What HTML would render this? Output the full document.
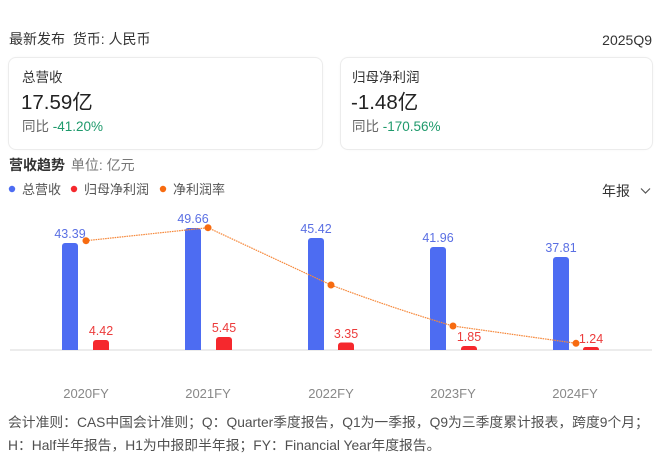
<!DOCTYPE html>
<html><head><meta charset="utf-8">
<style>
html,body{margin:0;padding:0;background:#fff;}
body{width:660px;height:468px;position:relative;overflow:hidden;font-family:"Liberation Sans","Noto Sans CJK SC",sans-serif;color:#333;}
.a{position:absolute;white-space:nowrap;line-height:1;}
.card{position:absolute;top:57px;height:91px;border:1px solid #ececec;border-radius:8px;background:#fff;box-shadow:0 0 2px rgba(0,0,0,0.03);}
</style></head><body>
<div class="a" style="left:9px;top:32px;font-size:14px;color:#333;">最新发布&nbsp;&nbsp;货币: 人民币</div>
<div class="a" style="right:8px;top:33px;font-size:14px;color:#333;">2025Q9</div>

<div class="card" style="left:8px;width:313px;"></div>
<div class="card" style="left:340px;width:311px;"></div>

<div class="a" style="left:22px;top:71px;font-size:13.5px;color:#333;">总营收</div>
<div class="a" style="left:21px;top:93px;font-size:20.5px;color:#222;">17.59亿</div>
<div class="a" style="left:22px;top:120px;font-size:13.5px;color:#666;">同比 <span style="color:#1f9a6c;">-41.20%</span></div>

<div class="a" style="left:352px;top:71px;font-size:13.5px;color:#333;">归母净利润</div>
<div class="a" style="left:351px;top:93px;font-size:20.5px;color:#222;">-1.48亿</div>
<div class="a" style="left:352px;top:120px;font-size:13.5px;color:#666;">同比 <span style="color:#1f9a6c;">-170.56%</span></div>

<div class="a" style="left:9px;top:158px;font-size:14px;font-weight:bold;color:#333;">营收趋势 <span style="font-weight:normal;color:#777;margin-left:2px;">单位: 亿元</span></div>

<svg class="a" style="left:0;top:0;" width="660" height="468" xmlns="http://www.w3.org/2000/svg">
  <circle cx="12" cy="189" r="3.2" fill="#4d6cf2"/>
  <circle cx="74" cy="189" r="3.2" fill="#f5282d"/>
  <circle cx="163" cy="189" r="3.2" fill="#f76b10"/>
  <text x="22" y="194" font-size="13" fill="#555" font-family="Liberation Sans, Noto Sans CJK SC, sans-serif">总营收</text>
  <text x="84" y="194" font-size="13" fill="#555" font-family="Liberation Sans, Noto Sans CJK SC, sans-serif">归母净利润</text>
  <text x="173" y="194" font-size="13" fill="#555" font-family="Liberation Sans, Noto Sans CJK SC, sans-serif">净利润率</text>
  <text x="602" y="196" font-size="14" fill="#333" font-family="Liberation Sans, Noto Sans CJK SC, sans-serif">年报</text>
  <polyline points="641,188.5 645.5,193 650,188.5" fill="none" stroke="#555" stroke-width="1.2"/>

  <rect x="10" y="349" width="642" height="2" fill="#ececec"/>

  <g fill="#4d6cf2">
    <path d="M62,350 V246 a3,3 0 0 1 3,-3 h10 a3,3 0 0 1 3,3 V350 Z"/>
    <path d="M185,350 V231 a3,3 0 0 1 3,-3 h10 a3,3 0 0 1 3,3 V350 Z"/>
    <path d="M308,350 V241 a3,3 0 0 1 3,-3 h10 a3,3 0 0 1 3,3 V350 Z"/>
    <path d="M430,350 V250 a3,3 0 0 1 3,-3 h10 a3,3 0 0 1 3,3 V350 Z"/>
    <path d="M553,350 V260 a3,3 0 0 1 3,-3 h10 a3,3 0 0 1 3,3 V350 Z"/>
  </g>
  <g fill="#f5282d">
    <path d="M93,350 V343 a3,3 0 0 1 3,-3 h10 a3,3 0 0 1 3,3 V350 Z"/>
    <path d="M216,350 V340 a3,3 0 0 1 3,-3 h10 a3,3 0 0 1 3,3 V350 Z"/>
    <path d="M338,350 V345.5 a3,3 0 0 1 3,-3 h10 a3,3 0 0 1 3,3 V350 Z"/>
    <path d="M461,350 V349 a3,3 0 0 1 3,-3 h10 a3,3 0 0 1 3,3 V350 Z"/>
    <path d="M583,350 V349.5 a2.5,2.5 0 0 1 2.5,-2.5 h11 a2.5,2.5 0 0 1 2.5,2.5 V350 Z"/>
  </g>

  <path d="M86,240.7 L208,227.7 L331,285 Q392,308 453,326 L576,343.3" fill="none" stroke="#f6893c" stroke-width="1.2" stroke-dasharray="1.6 0.8"/>
  <g fill="#f76b10">
    <circle cx="86" cy="240.7" r="3.5"/>
    <circle cx="208" cy="227.7" r="3.5"/>
    <circle cx="331" cy="285" r="3.5"/>
    <circle cx="453" cy="326" r="3.5"/>
    <circle cx="576" cy="343.3" r="3.5"/>
  </g>

  <g font-size="12.5" fill="#5a6fe3" text-anchor="middle" font-family="Liberation Sans, sans-serif">
    <text x="70" y="238">43.39</text>
    <text x="193" y="223">49.66</text>
    <text x="316" y="233">45.42</text>
    <text x="438" y="242">41.96</text>
    <text x="561" y="252">37.81</text>
  </g>
  <g font-size="12.5" fill="#ec3b3b" text-anchor="middle" font-family="Liberation Sans, sans-serif">
    <text x="101" y="335">4.42</text>
    <text x="224" y="332">5.45</text>
    <text x="346" y="338">3.35</text>
    <text x="469" y="341">1.85</text>
    <text x="591" y="343">1.24</text>
  </g>
  <g font-size="13" fill="#888" text-anchor="middle" font-family="Liberation Sans, sans-serif">
    <text x="86" y="398">2020FY</text>
    <text x="208" y="398">2021FY</text>
    <text x="331" y="398">2022FY</text>
    <text x="453" y="398">2023FY</text>
    <text x="575" y="398">2024FY</text>
  </g>
</svg>

<div class="a" style="left:8px;top:416px;font-size:13.8px;color:#505050;">会计准则：CAS中国会计准则；Q：Quarter季度报告，Q1为一季报，Q9为三季度累计报表，跨度9个月；</div>
<div class="a" style="left:8px;top:439px;font-size:13.8px;color:#505050;">H：Half半年报告，H1为中报即半年报；FY：Financial Year年度报告。</div>
</body></html>
